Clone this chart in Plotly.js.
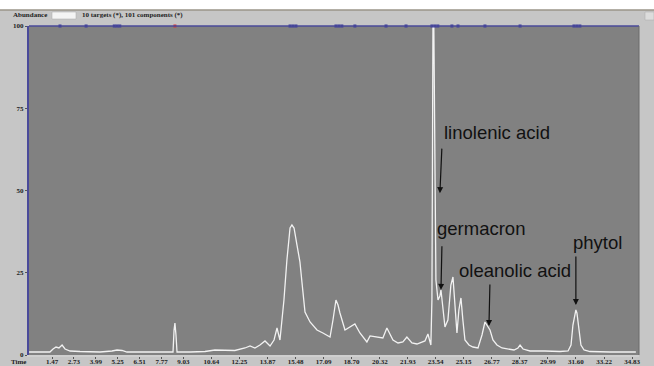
<!DOCTYPE html>
<html>
<head>
<meta charset="utf-8">
<script src="https://cdn.plot.ly/plotly-3.0.1.min.js"></script>
<style>html,body{margin:0;padding:0;background:#c6c6c6;}#chart{width:654px;height:366px;}</style>
</head>
<body>
<div id="chart"></div>
<script>
// Retention time (min) and relative abundance (%)
const retentionTime = [0.15,0.78,1.35,1.53,1.70,1.87,2.05,2.22,2.51,3.08,4.23,4.92,5.21,5.50,5.78,6.53,7.68,8.43,8.49,8.54,8.60,8.66,9.41,10.27,10.84,11.42,11.99,12.57,12.86,13.14,13.43,13.72,14.01,14.24,14.41,14.58,14.81,14.98,15.16,15.27,15.39,15.56,15.73,15.85,16.02,16.31,16.71,17.05,17.46,17.63,17.80,17.92,18.03,18.32,18.61,18.89,19.18,19.58,19.76,20.16,20.50,20.73,21.08,21.37,21.65,21.88,22.17,22.46,22.92,23.09,23.26,23.32,23.38,23.43,23.49,23.55,23.67,23.78,23.84,23.95,24.07,24.24,24.41,24.53,24.64,24.76,24.87,24.99,25.10,25.22,25.45,25.68,25.97,26.20,26.37,26.54,26.66,26.83,27.06,27.35,27.63,28.04,28.27,28.39,28.56,28.96,29.82,30.69,31.15,31.32,31.43,31.55,31.60,31.66,31.78,31.89,32.07,32.41,33.56,35.05];
const abundance = [0.91,0.91,0.91,1.82,2.43,2.13,3.04,1.82,1.22,1.06,0.91,1.22,1.52,1.37,0.91,0.91,0.91,0.91,7.60,9.73,6.08,0.91,0.91,1.06,1.52,1.52,1.37,2.13,2.74,2.13,3.04,4.26,2.74,4.56,8.21,4.56,16.72,28.88,38.60,39.51,38.60,33.43,28.27,21.88,13.07,10.03,7.60,6.69,5.47,10.64,16.72,15.20,12.77,7.60,8.51,9.42,6.69,3.95,5.78,5.47,5.17,8.21,4.56,3.65,3.95,5.47,3.65,3.34,4.26,6.38,3.04,16.72,100,100,71.4,22.80,16.72,17.93,19.76,15.20,8.51,10.64,21.28,23.71,16.72,6.69,13.68,17.33,10.64,4.56,3.04,2.43,2.13,6.08,10.03,8.51,7.60,4.56,3.04,2.13,1.82,1.52,2.13,3.04,1.82,1.22,1.22,1.06,1.22,3.04,9.12,13.37,13.68,12.77,7.60,3.04,1.52,1.06,0.91,0.91];
// Component markers along the top edge
const componentTimes = [1.93,3.43,5.05,5.21,5.37,15.16,15.33,15.50,17.80,17.97,18.14,18.89,20.68,21.83,23.32,23.49,23.66,24.47,24.82,26.37,28.39,31.49,31.66,31.83];
const targetTimes = [8.54];
// Axis tick labels
const xTickVals = [1.47,2.73,3.99,5.25,6.51,7.77,9.03,10.64,12.25,13.87,15.48,17.09,18.70,20.32,21.93,23.54,25.15,26.77,28.37,29.99,31.60,33.22,34.83];
const xTickText = ["1.47","2.73","3.99","5.25","6.51","7.77","9.03","10.64","12.25","13.87","15.48","17.09","18.70","20.32","21.93","23.54","25.15","26.77","28.37","29.99","31.60","33.22","34.83"];
const yTickVals = [0,25,50,75,100];
const yTickText = ["0","25","50","75","100"];
// Peak labels
const peakNames = ["linolenic acid","germacron","oleanolic acid","phytol"];
const peakTimes = [23.78,23.84,26.60,31.60];
const peakLevels = [49.2,19.8,8.8,15.2];

const tickFont = {family:"Liberation Serif", size:7, color:"#222", weight:"bold"};
const traces = [
  {x:retentionTime, y:abundance, type:"scatter", mode:"lines",
   line:{color:"#f2f2f2", width:1.3}, hoverinfo:"skip"},
  {x:componentTimes, y:componentTimes.map(()=>100), type:"scatter", mode:"markers",
   marker:{symbol:"square", size:3, color:"#3a3a9a"}, cliponaxis:false},
  {x:targetTimes, y:targetTimes.map(()=>100), type:"scatter", mode:"markers",
   marker:{symbol:"square", size:3, color:"#e03030"}, cliponaxis:false}
];

const pxX = p => (p-29)/610;   // paper helpers for decoration shapes
const pxY = p => 1-(p-26)/329;
const shapes = [
  {type:"rect", xref:"paper", yref:"paper", x0:pxX(0), x1:pxX(654), y0:pxY(0), y1:pxY(10), fillcolor:"#ffffff", line:{width:0}, layer:"below"},
  {type:"line", xref:"paper", yref:"paper", x0:pxX(0), x1:pxX(654), y0:pxY(10), y1:pxY(10), line:{color:"#9a9488", width:1.5}},
  {type:"rect", xref:"paper", yref:"paper", x0:pxX(52), x1:pxX(76), y0:pxY(12), y1:pxY(19), fillcolor:"#f4f4f4", line:{color:"#aaaaaa", width:0.5}},
  {type:"rect", xref:"paper", yref:"paper", x0:pxX(645), x1:pxX(654), y0:pxY(12), y1:pxY(20), fillcolor:"#dcdcdc", line:{color:"#aaaaaa", width:0.5}},
  {type:"line", xref:"paper", yref:"paper", x0:0, x1:1, y0:1, y1:1, line:{color:"#4a4a9a", width:1.5}},
  {type:"line", xref:"paper", yref:"paper", x0:1, x1:1, y0:0, y1:1, line:{color:"#6a6a6a", width:1}}
];

const annotations = [
  {xref:"paper", yref:"paper", x:pxX(11), y:pxY(15), xanchor:"left", yanchor:"middle", showarrow:false,
   text:"Abundance", font:{family:"Liberation Serif", size:7, color:"#222", weight:"bold"}},
  {xref:"paper", yref:"paper", x:pxX(80), y:pxY(15), xanchor:"left", yanchor:"middle", showarrow:false,
   text:"10 targets (*), 101 components (*)", font:{family:"Liberation Serif", size:7, color:"#222", weight:"bold"}},
  {xref:"paper", yref:"paper", x:pxX(9), y:pxY(362), xanchor:"left", yanchor:"middle", showarrow:false,
   text:"Time", font:{family:"Liberation Serif", size:7, color:"#222", weight:"bold"}}
];
const textPos = [[27.06,67.5],[26.14,38.6],[28.09,25.8],[32.87,34.3]];
const tails = [[2,-46],[1,-45],[1,-43],[0,-50]];
peakNames.forEach((n,i)=>{
  annotations.push({x:textPos[i][0], y:textPos[i][1], xref:"x", yref:"y", showarrow:false, text:n,
    font:{family:"Liberation Sans", size:18.5, color:"#111"}});
  annotations.push({x:peakTimes[i], y:peakLevels[i], xref:"x", yref:"y", text:"", showarrow:true,
    ax:tails[i][0], ay:tails[i][1], arrowhead:2, arrowsize:1, arrowwidth:1.2, arrowcolor:"#111"});
});

const layout = {
  width:654, height:366,
  margin:{l:29, r:15, t:26, b:11, pad:0},
  paper_bgcolor:"#c6c6c6", plot_bgcolor:"#818181",
  showlegend:false,
  xaxis:{range:[0.147,35.23], tickvals:xTickVals, ticktext:xTickText, tickfont:tickFont,
    ticks:"outside", ticklen:2, tickcolor:"#555", showgrid:false, zeroline:false,
    showline:true, linecolor:"#cfcfcf", linewidth:1.5, ticklabelstandoff:-3},
  yaxis:{range:[0,100], tickvals:yTickVals, ticktext:yTickText, tickfont:tickFont,
    ticks:"outside", ticklen:2, tickcolor:"#555", showgrid:false, zeroline:false,
    showline:true, linecolor:"#4a4a9a", linewidth:2},
  shapes:shapes, annotations:annotations
};
Plotly.newPlot("chart", traces, layout, {displayModeBar:false, staticPlot:true});
</script>
</body>
</html>
